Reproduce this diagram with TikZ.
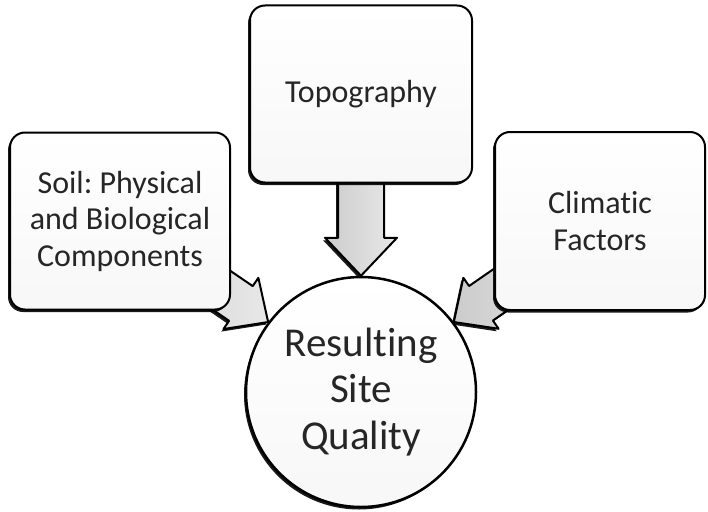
\documentclass[tikz,border=0pt]{standalone}
\usepackage{fontspec}
\setmainfont{Carlito}[Ligatures=NoCommon]
\usetikzlibrary{positioning,calc,shadows,backgrounds}
\frenchspacing

\begin{document}
\begin{tikzpicture}[
  x=1pt, y=1pt,
  font=\fontsize{32}{36.5}\selectfont,
  shad/.style={drop shadow={shadow xshift=-2pt, shadow yshift=-2.5pt, fill=black, opacity=.9}},
  box/.style={draw, line width=2pt, rounded corners=15pt, align=center, text=black!85,
    top color=white, bottom color=black!3, shad},
  hub/.style={circle, draw, line width=2.5pt, align=center, text=black!85,
    top color=white, bottom color=black!3, shad},
  arr/.style={draw, line width=2pt, line join=round, left color=black!20, right color=black!9, shad},
  fat/.style n args={3}{to path={
    ($(\tikztostart)!#1!90:(\tikztotarget)$)
    -- ($($(\tikztotarget)!#3!(\tikztostart)$)!#1!90:(\tikztotarget)$)
    -- ($($(\tikztotarget)!#3!(\tikztostart)$)!#2!90:(\tikztotarget)$)
    -- (\tikztotarget)
    -- ($($(\tikztotarget)!#3!(\tikztostart)$)!#2!-90:(\tikztotarget)$)
    -- ($($(\tikztotarget)!#3!(\tikztostart)$)!#1!-90:(\tikztotarget)$)
    -- ($(\tikztostart)!#1!-90:(\tikztotarget)$)
    -- cycle}}
]
\useasboundingbox (0,0) rectangle (708,-511);
\node[hub, minimum size=230pt, font=\fontsize{41}{46.5}\selectfont] (site) at (361,-392)
  {Resulting\\Site\\Quality};
\node[box, minimum width=222pt, minimum height=177pt] (topo) at (361,-94) {Topography};
\node[box, minimum width=220pt, minimum height=177pt] (soil) at (120,-221)
  {Soil: Physical\\and Biological\\Components};
\node[box, minimum width=210pt, minimum height=178pt] (clim) at (600,-221)
  {Climatic\\Factors};
\begin{scope}[on background layer]
\draw[arr, fat={23pt}{36pt}{38pt}] (topo.center) to (site.north);
\draw[arr, fat={21pt}{31pt}{33pt}] (soil.center) to (site.143);
\draw[arr, fat={21pt}{31pt}{33pt}] (clim.center) to (site.37);
\end{scope}
\end{tikzpicture}
\end{document}
